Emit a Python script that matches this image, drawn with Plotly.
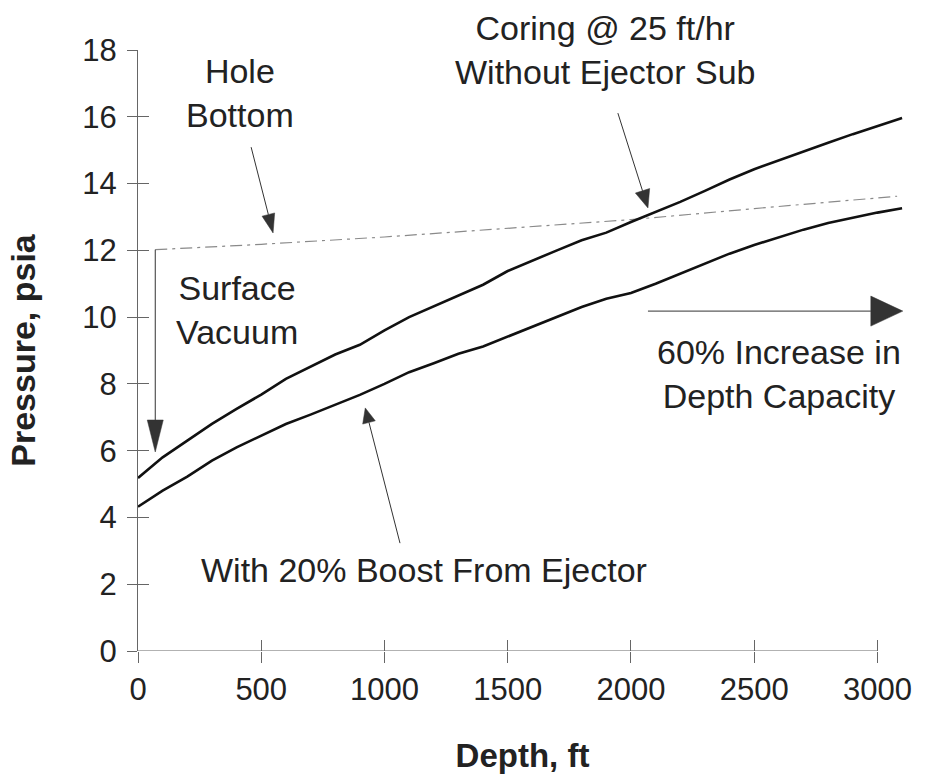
import math
import plotly.graph_objects as go

# ---- data -------------------------------------------------------------
depth_ft = [0, 100, 200, 300, 400, 500, 600, 700, 800, 900, 1000, 1100,
            1200, 1300, 1400, 1500, 1600, 1700, 1800, 1900, 2000, 2100,
            2200, 2300, 2400, 2500, 2600, 2700, 2800, 2900, 3000, 3100]

# Coring @ 25 ft/hr without ejector sub
p_no_ejector = [5.18, 5.80, 6.30, 6.80, 7.25, 7.68, 8.15, 8.52, 8.88, 9.17,
                9.60, 10.00, 10.33, 10.65, 10.97, 11.38, 11.70, 12.00, 12.30,
                12.53, 12.85, 13.15, 13.45, 13.78, 14.12, 14.43, 14.70, 14.95,
                15.22, 15.48, 15.72, 15.96]

# With 20% boost from ejector
p_with_ejector = [4.32, 4.80, 5.22, 5.70, 6.10, 6.45, 6.80, 7.08, 7.38, 7.67,
                  8.00, 8.35, 8.62, 8.90, 9.12, 9.42, 9.72, 10.02, 10.30,
                  10.55, 10.72, 11.00, 11.30, 11.60, 11.90, 12.16, 12.40,
                  12.62, 12.82, 12.98, 13.13, 13.26]

# Hole-bottom pressure
hole_depth_ft = [70, 500, 1000, 1500, 2000, 2500, 3080]
hole_p = [12.02, 12.18, 12.40, 12.65, 12.92, 13.25, 13.62]

x_ticks = [0, 500, 1000, 1500, 2000, 2500, 3000]
y_ticks = [0, 2, 4, 6, 8, 10, 12, 14, 16, 18]

# ---- layout geometry --------------------------------------------------
W, H = 931, 783
M_L, M_R, M_T, M_B = 138, 24, 50, 132
X_RANGE = [0, 3120]
Y_RANGE = [0, 18]
KX = (W - M_L - M_R) / (X_RANGE[1] - X_RANGE[0])   # px per ft
KY = (H - M_T - M_B) / (Y_RANGE[1] - Y_RANGE[0])   # px per psia

FONT = "Liberation Sans, Arial, sans-serif"
INK = "#222222"
AXIS = "#666666"
ARROW = "#333333"

fig = go.Figure()

fig.add_trace(go.Scatter(x=hole_depth_ft, y=hole_p, mode="lines",
                         line=dict(color="#8a8a8a", width=1.2,
                                   dash="12px,5px,3px,5px"),
                         hoverinfo="skip", showlegend=False))
fig.add_trace(go.Scatter(x=depth_ft, y=p_no_ejector, mode="lines",
                         line=dict(color="#111111", width=2.6),
                         showlegend=False))
fig.add_trace(go.Scatter(x=depth_ft, y=p_with_ejector, mode="lines",
                         line=dict(color="#111111", width=2.6),
                         showlegend=False))

# invisible helpers so the overlay axes (inner half of crossing ticks) render
fig.add_trace(go.Scatter(x=[0], y=[0], xaxis="x2", yaxis="y", mode="markers",
                         marker=dict(opacity=0), hoverinfo="skip",
                         showlegend=False))
fig.add_trace(go.Scatter(x=[0], y=[0], xaxis="x", yaxis="y2", mode="markers",
                         marker=dict(opacity=0), hoverinfo="skip",
                         showlegend=False))

shapes = []

# x-axis line only spans the labelled range
shapes.append(dict(type="line", xref="x", yref="y", x0=x_ticks[0], x1=x_ticks[-1],
                   y0=0, y1=0, line=dict(color=AXIS, width=1.2)))


def arrow(x0, y0, x1, y1, head_len, head_w, width=1.0):
    """Line from (x0, y0) to a filled triangular head whose tip is (x1, y1)."""
    dx = (x1 - x0) * KX
    dy = (y1 - y0) * KY
    n = math.hypot(dx, dy)
    ux, uy = dx / n, dy / n
    bx = x1 - ux * head_len / KX
    by = y1 - uy * head_len / KY
    px, py = -uy, ux
    lx = bx + px * head_w / 2 / KX
    ly = by + py * head_w / 2 / KY
    rx = bx - px * head_w / 2 / KX
    ry = by - py * head_w / 2 / KY
    shapes.append(dict(type="line", xref="x", yref="y", x0=x0, y0=y0,
                       x1=bx, y1=by, line=dict(color=ARROW, width=width)))
    shapes.append(dict(type="path", xref="x", yref="y",
                       path=f"M{x1},{y1} L{lx},{ly} L{rx},{ry} Z",
                       fillcolor=ARROW, line=dict(color=ARROW, width=0.5)))


arrow(70, 12.02, 70, 5.96, 32, 16)          # surface vacuum
arrow(459, 15.09, 548, 12.52, 19, 13)       # hole bottom
arrow(1947, 16.11, 2069, 13.27, 18, 15)     # coring without ejector
arrow(1063, 3.23, 922, 7.28, 15, 13)        # with ejector boost
arrow(2069, 10.18, 3103, 10.18, 32, 30)     # depth capacity increase

ann_font = dict(family=FONT, size=34, color=INK)
annotations = [
    dict(x=414, y=16.71, text="Hole<br>Bottom"),
    dict(x=1895, y=18.0, text="Coring @ 25 ft/hr<br>Without Ejector Sub"),
    dict(x=402, y=10.21, text="Surface<br>Vacuum"),
    dict(x=2600, y=8.30, text="60% Increase in<br>Depth Capacity"),
    dict(x=1160, y=2.43, text="With 20% Boost From Ejector"),
]
for a in annotations:
    a.update(xref="x", yref="y", showarrow=False, font=ann_font,
             xanchor="center", yanchor="middle", align="center")

fig.update_layout(
    width=W, height=H,
    margin=dict(l=M_L, r=M_R, t=M_T, b=M_B, pad=0),
    paper_bgcolor="white", plot_bgcolor="white",
    font=dict(family=FONT, color=INK),
    shapes=shapes, annotations=annotations,
    xaxis=dict(range=X_RANGE, tickvals=x_ticks, ticks="outside", ticklen=11,
               tickwidth=1.2, tickcolor=AXIS, showline=False, showgrid=False,
               zeroline=False, tickfont=dict(size=31, color=INK),
               title=dict(text="<b>Depth, ft</b>", standoff=37,
                          font=dict(size=33, color=INK))),
    xaxis2=dict(range=X_RANGE, overlaying="x", anchor="y", side="bottom",
                tickvals=x_ticks, ticks="inside", ticklen=11, tickwidth=1.2,
                tickcolor=AXIS, showticklabels=False, showline=False,
                showgrid=False, zeroline=False),
    yaxis=dict(range=Y_RANGE, tickvals=y_ticks, ticks="outside", ticklen=10,
               tickwidth=1.2, tickcolor=AXIS, showline=True, linecolor=AXIS,
               linewidth=1.2, showgrid=False, zeroline=False,
               ticklabelstandoff=4,
               tickfont=dict(size=31, color=INK),
               title=dict(text="<b>Pressure, psia</b>", standoff=36,
                          font=dict(size=34, color=INK))),
    yaxis2=dict(range=Y_RANGE, overlaying="y", anchor="x", side="left",
                tickvals=y_ticks, ticks="inside", ticklen=11, tickwidth=1.2,
                tickcolor=AXIS, showticklabels=False, showline=False,
                showgrid=False, zeroline=False),
)

fig.write_html("out.html")
